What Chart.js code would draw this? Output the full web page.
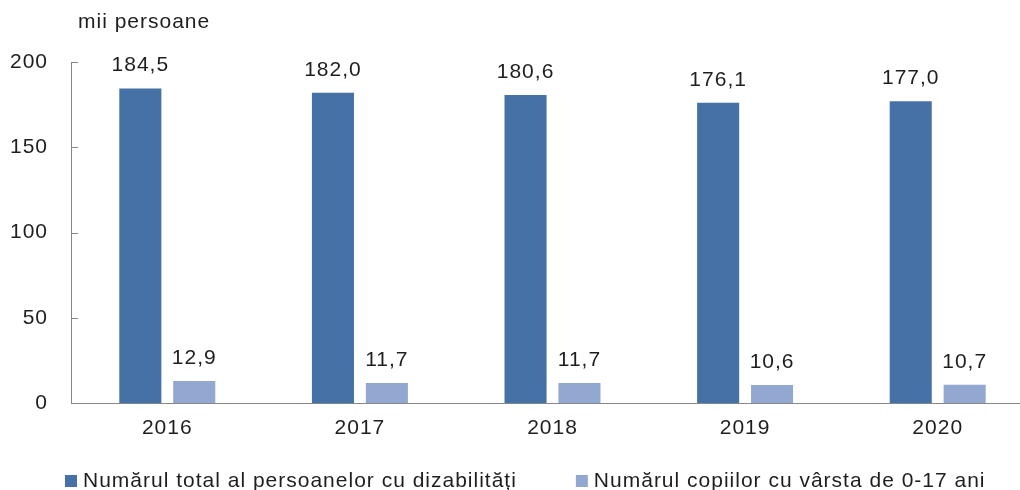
<!DOCTYPE html>
<html><head><meta charset="utf-8">
<script src="https://cdn.jsdelivr.net/npm/chart.js@4/dist/chart.umd.min.js"></script>
<style>
html,body{margin:0;padding:0;overflow:hidden;background:#fff;width:1020px;height:490px}
#wrap{position:absolute;left:0;top:0;width:1070px;height:490px}
</style>
</head><body><div id="wrap"><canvas id="c" width="1070" height="490"></canvas></div>
<script>
const years = ['2016', '2017', '2018', '2019', '2020'];
const totalPersons = [184.5, 182.0, 180.6, 176.1, 177.0];
const children = [12.9, 11.7, 11.7, 10.6, 10.7];
const seriesNames = ['Numărul total al persoanelor cu dizabilități', 'Numărul copiilor cu vârsta de 0-17 ani'];
const seriesColors = ['#4571a7', '#93a8d1'];
const yTicks = [0, 50, 100, 150, 200];
const unitLabel = 'mii persoane';

const FONT = '"Liberation Sans", Arial, sans-serif';
const TEXT = '#1e1e1e';
const AXIS = '#878787';
const SP = '1px';

Chart.defaults.font.family = FONT;
Chart.defaults.font.size = 21;
Chart.defaults.color = TEXT;

const fmt = v => v.toFixed(1).replace('.', ',');

const spacing = {
  id: 'spacing',
  beforeUpdate(c) { c.ctx.letterSpacing = SP; },
  beforeLayout(c) { c.ctx.letterSpacing = SP; },
  beforeDraw(c) { c.ctx.letterSpacing = SP; }
};

const extras = {
  id: 'extras',
  afterDatasetsDraw(chart) {
    const ctx = chart.ctx;
    ctx.save();
    ctx.letterSpacing = SP;
    ctx.font = '21px ' + FONT;
    ctx.fillStyle = TEXT;
    ctx.textAlign = 'center';
    ctx.textBaseline = 'alphabetic';
    chart.data.datasets.forEach((ds, i) => {
      chart.getDatasetMeta(i).data.forEach((bar, j) => {
        ctx.fillText(fmt(ds.data[j]), bar.x, bar.y - 17);
      });
    });
    ctx.restore();
  },
  afterDraw(chart) {
    const ctx = chart.ctx;
    const ys = chart.scales.y;
    const a = chart.chartArea;
    ctx.save();
    ctx.strokeStyle = AXIS;
    ctx.lineWidth = 1;
    yTicks.forEach(v => {
      if (v === 0) return;
      const y = Math.round(ys.getPixelForValue(v)) + 0.5;
      ctx.beginPath();
      ctx.moveTo(a.left, y);
      ctx.lineTo(a.left + 7, y);
      ctx.stroke();
    });
    ctx.letterSpacing = SP;
    ctx.font = '21px ' + FONT;
    ctx.fillStyle = TEXT;
    ctx.textAlign = 'left';
    ctx.textBaseline = 'alphabetic';
    ctx.fillText(unitLabel, a.left + 7, 28);

    // legend
    const box = 12, gapText = 6, gapItem = 59, baseY = 487;
    let x = a.left - 6;
    seriesNames.forEach((t, i) => {
      const w = ctx.measureText(t).width;
      ctx.fillStyle = seriesColors[i];
      ctx.fillRect(x, baseY - 12, box, box);
      ctx.fillStyle = TEXT;
      ctx.fillText(t, x + box + gapText, baseY);
      x += box + gapText + w + gapItem;
    });
    ctx.restore();
  }
};

new Chart(document.getElementById('c'), {
  type: 'bar',
  data: {
    labels: years,
    datasets: [
      { label: seriesNames[0], data: totalPersons, backgroundColor: seriesColors[0], borderWidth: 0 },
      { label: seriesNames[1], data: children, backgroundColor: seriesColors[1], borderWidth: 0 }
    ]
  },
  options: {
    responsive: false,
    devicePixelRatio: 1,
    animation: false,
    datasets: { bar: { categoryPercentage: 0.56, barPercentage: 0.78 } },
    layout: { padding: { top: 62, left: 0, right: 36, bottom: 0 } },
    scales: {
      x: {
        grid: { display: false, drawTicks: false },
        border: { display: true, color: AXIS, width: 1 },
        ticks: { padding: 13, color: TEXT, font: { size: 21 } },
        afterFit(s) { s.height = 87; }
      },
      y: {
        min: 0, max: 200,
        grid: { display: false, drawTicks: false },
        border: { display: true, color: AXIS, width: 1 },
        ticks: { padding: 23, color: TEXT, font: { size: 21 } },
        afterBuildTicks(s) { s.ticks = yTicks.map(v => ({ value: v })); },
        afterFit(s) { s.width = 71; }
      }
    },
    plugins: {
      legend: { display: false },
      tooltip: { enabled: false },
      title: { display: false }
    }
  },
  plugins: [spacing, extras]
});
</script>
</body></html>
